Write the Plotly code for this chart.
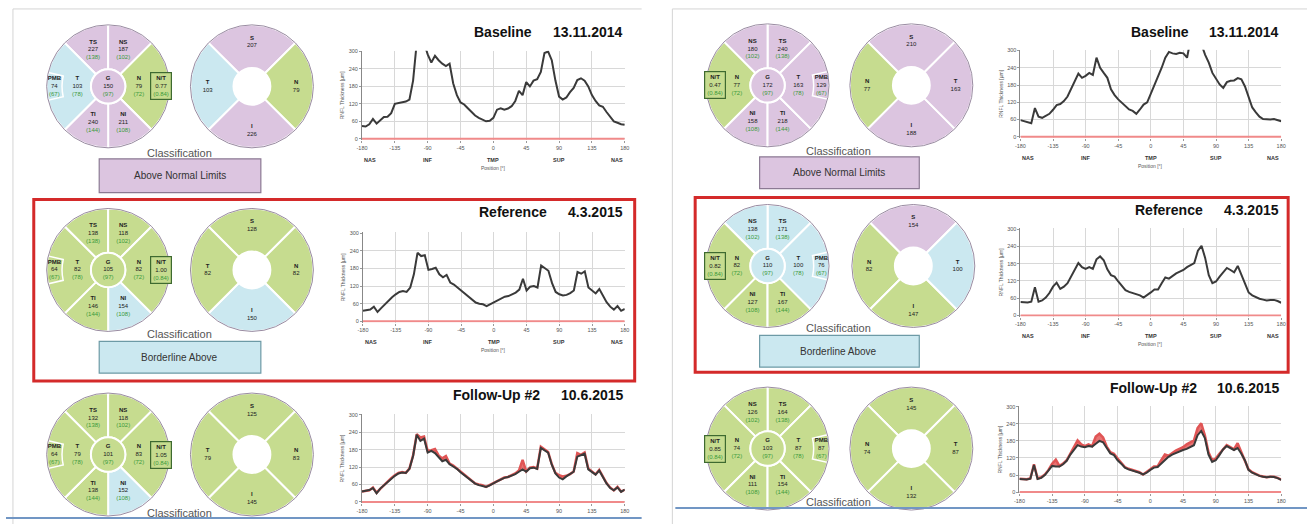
import plotly.graph_objects as go

W, H = 1312, 526
FONT = "Liberation Sans, Arial, sans-serif"

# ---------------- data ----------------
positions = list(range(-180, 181, 5))
x_tick_vals = [-180, -135, -90, -45, 0, 45, 90, 135, 180]
x_tick_text = ["-180", "-135", "-90", "-45", "0", "45", "90", "135", "180"]
y_tick_vals = [0, 60, 120, 180, 240, 300]
region_pos = [-180, -90, 0, 90, 180]
region_text = ["NAS", "INF", "TMP", "SUP", "NAS"]

left_baseline = [44, 42, 50, 68, 52, 62, 75, 76, 88, 120,
                 122, 124, 128, 135, 200, 330, 340, 330, 290, 262,
                 285, 270, 258, 250, 258, 190, 150, 125, 118, 105,
                 92, 80, 72, 66, 60, 62, 72, 100, 105, 100,
                 104, 112, 130, 165, 150, 195, 180, 200, 205, 230,
                 295, 300, 270, 200, 145, 135, 142, 160, 175, 202,
                 208, 200, 180, 150, 130, 115, 110, 92, 75, 60,
                 55, 50, 48]
left_reference = [36, 38, 40, 50, 32, 45, 58, 68, 82, 92,
                  100, 103, 100, 115, 160, 233, 222, 225, 175, 178,
                  182, 160, 150, 158, 132, 125, 115, 104, 94, 82,
                  72, 64, 60, 58, 52, 58, 66, 72, 78, 84,
                  86, 92, 98, 108, 145, 105, 118, 120, 115, 190,
                  180, 172, 130, 100, 92, 88, 90, 96, 105, 168,
                  162, 170, 115, 105, 95, 110, 85, 65, 50, 40,
                  52, 36, 42]
left_followup = [36, 38, 41, 48, 30, 46, 57, 68, 80, 90,
                 98, 101, 100, 114, 158, 231, 210, 218, 170, 176,
                 168, 155, 140, 145, 130, 122, 114, 102, 92, 80,
                 71, 63, 58, 56, 52, 57, 65, 71, 77, 83,
                 86, 90, 96, 104, 112, 104, 116, 118, 114, 186,
                 178, 170, 128, 98, 84, 78, 88, 95, 104, 156,
                 160, 166, 112, 104, 94, 108, 84, 64, 48, 40,
                 50, 35, 43]
right_baseline = [58, 55, 52, 47, 100, 70, 66, 72, 80, 94,
                  110, 114, 124, 140, 165, 195, 220, 205, 212, 222,
                  215, 275, 240, 222, 205, 165, 145, 130, 118, 105,
                  95, 90, 80, 95, 112, 120, 150, 180, 205, 240,
                  275, 295, 290, 288, 292, 290, 275, 340, 345, 335,
                  320, 285, 258, 222, 200, 182, 170, 190, 195, 196,
                  204, 200, 175, 140, 102, 85, 70, 62, 60, 60,
                  62, 58, 54]
right_reference = [47, 46, 45, 48, 98, 48, 52, 62, 78, 100,
                   114, 92, 100, 112, 135, 155, 182, 168, 162, 168,
                   162, 195, 205, 192, 160, 140, 135, 118, 102, 88,
                   82, 78, 76, 70, 62, 70, 80, 90, 90, 112,
                   132, 128, 138, 146, 152, 158, 168, 175, 182, 225,
                   242, 200, 140, 112, 118, 135, 152, 165, 158, 150,
                   172, 140, 115, 80, 70, 64, 58, 55, 52, 54,
                   54, 50, 44]
right_followup = [46, 45, 44, 47, 95, 46, 50, 60, 76, 92,
                  90, 90, 98, 110, 132, 150, 165, 160, 158, 162,
                  160, 170, 180, 175, 155, 136, 130, 112, 100, 86,
                  80, 76, 74, 68, 62, 68, 78, 86, 88, 100,
                  115, 124, 132, 138, 142, 148, 152, 158, 165, 200,
                  215, 190, 132, 106, 112, 130, 150, 162, 154, 148,
                  155, 136, 112, 78, 68, 62, 57, 54, 52, 54,
                  53, 49, 43]

sector_names = ["TS", "NS", "N", "NI", "TI", "T", "G"]
sector_normals = [138, 102, 72, 108, 144, 78, 97]
pmb_normal = 67
nt_normal = "0.84"
quad_names = ["S", "N", "I", "T"]

# values / classification (P=above normal, B=borderline above, G=within normal)
L1_sect = [227, 187, 79, 211, 240, 103, 150]; L1_cls = ["P", "P", "G", "P", "P", "B", "P"]
L1_pmb = 74; L1_pmb_cls = "B"; L1_nt = "0.77"
L1_quad = [207, 79, 226, 103]; L1_quad_cls = ["P", "G", "P", "B"]
L2_sect = [138, 118, 82, 154, 146, 82, 105]; L2_cls = ["G", "G", "G", "B", "G", "G", "G"]
L2_pmb = 64; L2_pmb_cls = "G"; L2_nt = "1.00"
L2_quad = [128, 82, 150, 82]; L2_quad_cls = ["G", "G", "B", "G"]
L3_sect = [132, 118, 83, 152, 138, 79, 101]; L3_cls = ["G", "G", "G", "B", "G", "G", "G"]
L3_pmb = 64; L3_pmb_cls = "G"; L3_nt = "1.05"
L3_quad = [125, 83, 145, 79]; L3_quad_cls = ["G", "G", "G", "G"]

R1_sect = [240, 180, 77, 158, 218, 163, 172]; R1_cls = ["P", "P", "G", "P", "P", "P", "P"]
R1_pmb = 129; R1_pmb_cls = "P"; R1_nt = "0.47"
R1_quad = [210, 77, 188, 163]; R1_quad_cls = ["P", "G", "P", "P"]
R2_sect = [171, 138, 82, 127, 167, 100, 110]; R2_cls = ["B", "B", "G", "G", "G", "B", "B"]
R2_pmb = 76; R2_pmb_cls = "B"; R2_nt = "0.82"
R2_quad = [154, 82, 147, 100]; R2_quad_cls = ["P", "G", "G", "B"]
R3_sect = [164, 126, 74, 111, 154, 87, 103]; R3_cls = ["G", "G", "G", "G", "G", "G", "G"]
R3_pmb = 87; R3_pmb_cls = "G"; R3_nt = "0.85"
R3_quad = [145, 74, 132, 87]; R3_quad_cls = ["G", "G", "G", "G"]

# ---------------- style ----------------
COL = {"P": "#dcc5e0", "G": "#c6dc8f", "B": "#cbe8f0"}
NORMC = "#3a9a3a"
RIM = "#9a8ca2"
R = 62
INNER7 = 0.28
INNER4 = 0.30
LBL = 6
ANG7 = {"TS": 112.5, "NS": 67.5, "N": 0, "NI": 292.5, "TI": 247.5, "T": 180}
WID7 = {"TS": 45, "NS": 45, "N": 90, "NI": 45, "TI": 45, "T": 90}
ANG4 = {"S": 90, "N": 0, "I": 270, "T": 180}

fig = go.Figure()
annotations = []
shapes = []
polar_layouts = {}


def ang(a, mirrored):
    return (180 - a) % 360 if mirrored else a


def pdom(cx, cy, r):
    return dict(x=[(cx - r) / W, (cx + r) / W], y=[1 - (cy + r) / H, 1 - (cy - r) / H])


def polar_style(cx, cy):
    return dict(domain=pdom(cx, cy, R), bgcolor="white",
                radialaxis=dict(visible=False, range=[0, 1]),
                angularaxis=dict(visible=True, showticklabels=False, ticks="", showgrid=False,
                                 showline=True, linecolor=RIM, linewidth=1))


def lab(name, val, normal=None):
    s = f"<b>{name}</b><br>{val}"
    if normal is not None:
        s += f"<br><span style='color:{NORMC}'>({normal})</span>"
    return s


pk = [0]


def next_polar():
    pk[0] += 1
    return "polar" if pk[0] == 1 else f"polar{pk[0]}"


def add_sector7(cx, cy, mirrored, vals, cls, pmb_val, pmb_cls, nt):
    pid = next_polar()
    outer = sector_names[:6]
    fig.add_trace(go.Barpolar(
        r=[1 - INNER7] * 6, base=[INNER7] * 6,
        theta=[ang(ANG7[n], mirrored) for n in outer], width=[WID7[n] for n in outer],
        marker=dict(color=[COL[c] for c in cls[:6]], line=dict(color="white", width=2)),
        subplot=pid, hoverinfo="skip"))
    fig.add_trace(go.Barpolar(
        r=[INNER7], base=[0], theta=[0], width=[360],
        marker=dict(color=COL[cls[6]], line=dict(color="white", width=2)),
        subplot=pid, hoverinfo="skip"))
    tpos = ang(180, mirrored)
    fig.add_trace(go.Barpolar(
        r=[0.25], base=[0.75], theta=[tpos], width=[26],
        marker=dict(color=COL[pmb_cls], line=dict(color="white", width=1.5)),
        subplot=pid, hoverinfo="skip"))
    rr, tt, tx = [], [], []
    for n, v, nm in zip(sector_names, vals, sector_normals):
        if n == "G":
            rr.append(0); tt.append(0)
        elif n in ("T", "N"):
            rr.append(0.5); tt.append(ang(ANG7[n], mirrored))
        else:
            rr.append(0.64); tt.append(ang(ANG7[n], mirrored))
        tx.append(lab(n, v, nm))
    rr.append(0.875); tt.append(tpos); tx.append(lab("PMB", pmb_val, pmb_normal))
    fig.add_trace(go.Scatterpolar(r=rr, theta=tt, text=tx, mode="text",
                                  textfont=dict(size=LBL, color="#222", family=FONT),
                                  subplot=pid, hoverinfo="skip"))
    polar_layouts[pid] = polar_style(cx, cy)
    nx = cx + (-1 if mirrored else 1) * 0.86 * R
    annotations.append(dict(x=nx / W, y=1 - cy / H, xref="paper", yref="paper",
                            xanchor="center", yanchor="middle",
                            text=f"<b>N/T</b><br>{nt}<br><span style='color:{NORMC}'>({nt_normal})</span>",
                            showarrow=False, bgcolor=COL[cls[2]], bordercolor="#3e6a30",
                            borderwidth=1.2, borderpad=2,
                            font=dict(size=LBL, color="#222", family=FONT)))


def add_quad(cx, cy, mirrored, vals, cls):
    pid = next_polar()
    fig.add_trace(go.Barpolar(
        r=[1 - INNER4] * 4, base=[INNER4] * 4,
        theta=[ang(ANG4[n], mirrored) for n in quad_names], width=[90] * 4,
        marker=dict(color=[COL[c] for c in cls], line=dict(color="white", width=2)),
        subplot=pid, hoverinfo="skip"))
    fig.add_trace(go.Scatterpolar(
        r=[0.72] * 4, theta=[ang(ANG4[n], mirrored) for n in quad_names],
        text=[lab(n, v) for n, v in zip(quad_names, vals)], mode="text",
        textfont=dict(size=LBL, color="#222", family=FONT), subplot=pid, hoverinfo="skip"))
    polar_layouts[pid] = polar_style(cx, cy)


ck = [0]


def add_chart(x0, x1, y0, y1, series, red_series, show_regions, title, date, title_cx, title_y):
    ck[0] += 1
    i = ck[0]
    xa = "x" if i == 1 else f"x{i}"
    ya = "y" if i == 1 else f"y{i}"
    fig.add_trace(go.Scatter(x=[-180, 180], y=[0, 0], mode="lines",
                             line=dict(color="#f08a8a", width=2), xaxis=xa, yaxis=ya, hoverinfo="skip"))
    if red_series is not None:
        fig.add_trace(go.Scatter(x=positions, y=red_series, mode="lines",
                                 line=dict(color="#e05555", width=2.5), xaxis=xa, yaxis=ya, hoverinfo="skip"))
        fig.add_trace(go.Scatter(x=positions, y=series, mode="lines", fill="tonexty",
                                 fillcolor="rgba(228,90,90,0.85)",
                                 line=dict(color="#3a3a3a", width=2), xaxis=xa, yaxis=ya, hoverinfo="skip"))
    else:
        fig.add_trace(go.Scatter(x=positions, y=series, mode="lines",
                                 line=dict(color="#3a3a3a", width=2), xaxis=xa, yaxis=ya, hoverinfo="skip"))
    xkey = "xaxis" if i == 1 else f"xaxis{i}"
    ykey = "yaxis" if i == 1 else f"yaxis{i}"
    fig.layout[xkey] = dict(domain=[x0 / W, x1 / W], anchor=ya, range=[-180, 180],
                            tickmode="array", tickvals=x_tick_vals, ticktext=x_tick_text,
                            tickfont=dict(size=5.5, color="#555", family=FONT),
                            showgrid=True, gridcolor="#d8d8d8", gridwidth=1, zeroline=False,
                            showline=False, ticks="outside", ticklen=2, tickcolor="#999")
    fig.layout[ykey] = dict(domain=[1 - y1 / H, 1 - y0 / H], anchor=xa, range=[-4, 303],
                            tickmode="array", tickvals=y_tick_vals,
                            tickfont=dict(size=5.5, color="#555", family=FONT),
                            showgrid=True, gridcolor="#d8d8d8", gridwidth=1, zeroline=False,
                            showline=True, linecolor="#888", linewidth=1,
                            ticks="outside", ticklen=2, tickcolor="#999",
                            title=dict(text="RNFL Thickness [µm]", standoff=3,
                                       font=dict(size=5, color="#555", family=FONT)))
    if show_regions:
        for k, (p, t) in enumerate(zip(region_pos, region_text)):
            anc = "left" if k == 0 else ("right" if k == len(region_pos) - 1 else "center")
            annotations.append(dict(x=p, y=0, xref=xa, yref=ya, yshift=-21, xanchor=anc,
                                    yanchor="middle", text=f"<b>{t}</b>", showarrow=False,
                                    font=dict(size=5.5, color="#333", family=FONT)))
        annotations.append(dict(x=0, y=0, xref=xa, yref=ya, yshift=-29, text="Position [°]",
                                xanchor="center", yanchor="middle",
                                showarrow=False, font=dict(size=5, color="#555", family=FONT)))
    annotations.append(dict(x=title_cx / W, y=1 - title_y / H, xref="paper", yref="paper",
                            text=f"<b>{title}</b>", showarrow=False, xanchor="center", yanchor="middle",
                            font=dict(size=14, color="#111", family=FONT)))
    annotations.append(dict(x=x1 / W, y=1 - title_y / H, xref="paper", yref="paper",
                            text=f"<b>{date}</b>", showarrow=False, xanchor="right", yanchor="middle",
                            font=dict(size=14, color="#111", family=FONT)))


def rect(x0, y0, x1, y1, line_color, width=1, fill=None):
    shapes.append(dict(type="rect", xref="paper", yref="paper",
                       x0=x0 / W, x1=x1 / W, y0=1 - y1 / H, y1=1 - y0 / H,
                       line=dict(color=line_color, width=width),
                       fillcolor=fill if fill else "rgba(0,0,0,0)", layer="below"))


def hline(x0, x1, y, color, width=1):
    shapes.append(dict(type="line", xref="paper", yref="paper", x0=x0 / W, x1=x1 / W,
                       y0=1 - y / H, y1=1 - y / H, line=dict(color=color, width=width)))


def vline(x, y0, y1, color, width=1):
    shapes.append(dict(type="line", xref="paper", yref="paper", x0=x / W, x1=x / W,
                       y0=1 - y1 / H, y1=1 - y0 / H, line=dict(color=color, width=width)))


def text_at(x, y, t, size, color="#444"):
    annotations.append(dict(x=x / W, y=1 - y / H, xref="paper", yref="paper", text=t,
                            xanchor="center", yanchor="middle",
                            showarrow=False, font=dict(size=size, color=color, family=FONT)))


# ---------------- panels ----------------
hline(7, 641, 7, "#d4d4d4"); vline(7, 7, 526, "#d4d4d4")
hline(672, 1312, 7, "#d4d4d4"); vline(672, 7, 526, "#d4d4d4")
hline(0, 641, 520, "#7196c4", 2)
hline(675, 1312, 510, "#7196c4", 2)
rect(28, 199, 634, 382, "#d42a2a", 3)
rect(695, 197, 1293, 373, "#d42a2a", 3)
rect(94, 158, 257, 192, "#8c7a94", 1.2, COL["P"])
rect(94, 342, 257, 374, "#6d9aa6", 1.2, COL["B"])
rect(760, 156, 921, 188, "#8c7a94", 1.2, COL["P"])
rect(760, 336, 921, 368, "#6d9aa6", 1.2, COL["B"])
text_at(175, 175, "Above Normal Limits", 10, "#333")
text_at(175, 358, "Borderline Above", 10, "#333")
text_at(840, 172, "Above Normal Limits", 10, "#333")
text_at(840, 352, "Borderline Above", 10, "#333")
text_at(175, 152, "Classification", 11, "#555")
text_at(175, 335, "Classification", 11, "#555")
text_at(175, 515, "Classification", 11, "#555")
text_at(840, 150, "Classification", 11, "#555")
text_at(840, 329, "Classification", 11, "#555")
text_at(840, 504, "Classification", 11, "#555")

add_sector7(103, 85, False, L1_sect, L1_cls, L1_pmb, L1_pmb_cls, L1_nt)
add_quad(248, 85, False, L1_quad, L1_quad_cls)
add_sector7(103, 270, False, L2_sect, L2_cls, L2_pmb, L2_pmb_cls, L2_nt)
add_quad(248, 270, False, L2_quad, L2_quad_cls)
add_sector7(103, 456, False, L3_sect, L3_cls, L3_pmb, L3_pmb_cls, L3_nt)
add_quad(248, 456, False, L3_quad, L3_quad_cls)
add_sector7(768, 84, True, R1_sect, R1_cls, R1_pmb, R1_pmb_cls, R1_nt)
add_quad(913, 84, True, R1_quad, R1_quad_cls)
add_sector7(768, 266, True, R2_sect, R2_cls, R2_pmb, R2_pmb_cls, R2_nt)
add_quad(915, 266, True, R2_quad, R2_quad_cls)
add_sector7(768, 450, True, R3_sect, R3_cls, R3_pmb, R3_pmb_cls, R3_nt)
add_quad(913, 450, True, R3_quad, R3_quad_cls)

add_chart(359, 624, 49, 139, left_baseline, None, True, "Baseline", "13.11.2014", 501, 30)
add_chart(360, 624, 232, 323, left_reference, None, True, "Reference", "4.3.2015", 511, 212)
add_chart(359, 624, 415, 505, left_followup, left_reference, False, "Follow-Up #2", "10.6.2015", 495, 396)
add_chart(1023, 1286, 48, 137, right_baseline, None, True, "Baseline", "13.11.2014", 1164, 30)
add_chart(1023, 1286, 228, 317, right_reference, None, True, "Reference", "4.3.2015", 1173, 210)
add_chart(1022, 1286, 407, 495, right_followup, right_reference, False, "Follow-Up #2", "10.6.2015", 1157, 389)

fig.update_layout(width=W, height=H, margin=dict(l=0, r=0, t=0, b=0),
                  paper_bgcolor="white", plot_bgcolor="white", showlegend=False,
                  hovermode=False, font=dict(family=FONT),
                  annotations=annotations, shapes=shapes, **polar_layouts)

fig.write_html("out.html", config={"displayModeBar": False},
               post_script="document.body.style.margin='0';document.body.style.overflow='hidden';")
